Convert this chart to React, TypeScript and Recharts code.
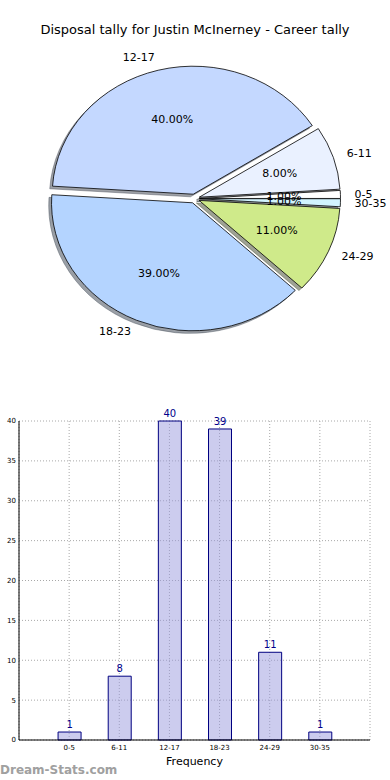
import React from 'react';
import { PieChart, Pie, Cell, BarChart, Bar, XAxis, YAxis, CartesianGrid, LabelList } from 'recharts';

const categories = ['0-5', '6-11', '12-17', '18-23', '24-29', '30-35'];
const tally = [1, 8, 40, 39, 11, 1];
const sliceColors = ['#ffffff', '#eaf1ff', '#c4d8ff', '#b4d4ff', '#cfea8a', '#d2f4ff'];
const yTicks = [0, 5, 10, 15, 20, 25, 30, 35, 40];
const xTicks = [0, 1, 2, 3, 4, 5];

const pieData = categories.map((c, i) => ({ name: c, value: tally[i] }));
const barData = categories.map((c, i) => ({ x: i, name: c, value: tally[i] }));

const RX = 141;
const RY = 128;
const EXPLODE = 5;
const RAD = Math.PI / 180;
const FONT = '"DejaVu Sans", sans-serif';

function shadeColor(hex: string) {
  const n = parseInt(hex.slice(1), 16);
  const r = Math.round(((n >> 16) & 255) * 0.3);
  const g = Math.round(((n >> 8) & 255) * 0.3);
  const b = Math.round((n & 255) * 0.3);
  return `rgb(${r},${g},${b})`;
}

function sectorPath(cx: number, cy: number, startAngle: number, endAngle: number, dx: number, dy: number) {
  const mid = ((startAngle + endAngle) / 2) * RAD;
  const ox = cx + EXPLODE * Math.cos(mid) + dx;
  const oy = cy - EXPLODE * (RY / RX) * Math.sin(mid) + dy;
  const a0 = startAngle * RAD;
  const a1 = endAngle * RAD;
  const x0 = ox + RX * Math.cos(a0);
  const y0 = oy - RY * Math.sin(a0);
  const x1 = ox + RX * Math.cos(a1);
  const y1 = oy - RY * Math.sin(a1);
  const large = Math.abs(endAngle - startAngle) > 180 ? 1 : 0;
  return `M${ox},${oy} L${x0},${y0} A${RX},${RY} 0 ${large} 0 ${x1},${y1} Z`;
}

const WedgeShape = (props: any) => {
  const { cx, cy, startAngle, endAngle, fill } = props;
  return <path d={sectorPath(cx, cy, startAngle, endAngle, 0, 0)} fill={fill} stroke="#000" strokeWidth={0.8} strokeLinejoin="round" />;
};

const ShadowShape = (props: any) => {
  const { cx, cy, startAngle, endAngle, fill } = props;
  return <path d={sectorPath(cx, cy, startAngle, endAngle, -2.8, 2.6)} fill={fill} stroke={fill} strokeWidth={0.8} fillOpacity={0.5} strokeOpacity={0.5} />;
};

const renderPieLabel = (props: any) => {
  const { cx, cy, midAngle, percent, index } = props;
  const m = midAngle * RAD;
  const ox = cx + EXPLODE * Math.cos(m);
  const oy = cy - EXPLODE * (RY / RX) * Math.sin(m);
  const nx = ox + 1.1 * RX * Math.cos(m);
  const ny = oy - 1.1 * RY * Math.sin(m);
  const px = ox + 0.6 * RX * Math.cos(m);
  const py = oy - 0.6 * RY * Math.sin(m);
  return (
    <g>
      <text x={nx} y={ny} textAnchor={Math.cos(m) > 0 ? 'start' : 'end'} dominantBaseline="central" fontSize={11} fontFamily={FONT} fill="#000">
        {categories[index]}
      </text>
      <text x={px} y={py} textAnchor="middle" dominantBaseline="central" fontSize={11} fontFamily={FONT} fill="#000">
        {(percent * 100).toFixed(2)}%
      </text>
    </g>
  );
};

export default function App() {
  return (
    <div style={{ position: 'absolute', left: 0, top: 0, width: 390, height: 780, background: '#fff', fontFamily: FONT }}>
      <div style={{ position: 'absolute', left: 0, top: 22, width: 390, textAlign: 'center', fontSize: 13, lineHeight: '16px', color: '#000' }}>
        Disposal tally for Justin McInerney - Career tally
      </div>
      <div style={{ position: 'absolute', left: 0, top: 0 }}>
        <PieChart width={390} height={390} margin={{ top: 0, right: 0, bottom: 0, left: 0 }}>
          <Pie
            data={pieData}
            dataKey="value"
            nameKey="name"
            cx={194.5}
            cy={198.6}
            outerRadius={RX}
            startAngle={0}
            endAngle={360}
            shape={ShadowShape}
            label={false}
            labelLine={false}
            isAnimationActive={false}
          >
            {pieData.map((d, i) => (
              <Cell key={`s${i}`} fill={shadeColor(sliceColors[i])} />
            ))}
          </Pie>
          <Pie
            data={pieData}
            dataKey="value"
            nameKey="name"
            cx={194.5}
            cy={198.6}
            outerRadius={RX}
            startAngle={0}
            endAngle={360}
            shape={WedgeShape}
            label={renderPieLabel}
            labelLine={false}
            isAnimationActive={false}
          >
            {pieData.map((d, i) => (
              <Cell key={`c${i}`} fill={sliceColors[i]} />
            ))}
          </Pie>
        </PieChart>
      </div>
      <div style={{ position: 'absolute', left: 0, top: 400 }}>
        <BarChart width={390} height={380} data={barData} margin={{ top: 21, right: 20, bottom: 0, left: 0 }}>
          <CartesianGrid stroke="#a8a8a8" strokeDasharray="1 2" />
          <XAxis
            dataKey="x"
            type="number"
            domain={[-1, 6]}
            ticks={xTicks}
            tickFormatter={(v: number) => categories[v]}
            height={40}
            tickSize={0}
            tickMargin={5}
            axisLine={{ stroke: '#000' }}
            tick={{ fontSize: 7, fill: '#000', fontFamily: FONT }}
            interval={0}
            label={{ value: 'Frequency', position: 'insideBottom', offset: 15, fontSize: 11, fill: '#000', fontFamily: FONT }}
          />
          <XAxis xAxisId="top" orientation="top" type="number" domain={[-1, 6]} ticks={xTicks} tick={false} tickLine={false} axisLine={{ stroke: '#000' }} height={0} />
          <YAxis
            domain={[0, 40]}
            ticks={yTicks}
            width={19}
            tickSize={0}
            tickMargin={3}
            axisLine={{ stroke: '#000' }}
            tick={{ fontSize: 7, fill: '#000', fontFamily: FONT }}
            interval={0}
          />
          <YAxis yAxisId="right" orientation="right" domain={[0, 40]} ticks={yTicks} tick={false} tickLine={false} axisLine={{ stroke: '#000' }} width={0} />
          <Bar dataKey="value" barSize={23} fill="#9999dd" fillOpacity={0.5} stroke="#000080" strokeWidth={1} isAnimationActive={false}>
            <LabelList dataKey="value" position="top" offset={4} fill="#00008b" fontSize={10} fontFamily={FONT} />
          </Bar>
        </BarChart>
      </div>
      <div style={{ position: 'absolute', left: 0, top: 762, fontSize: 12, fontWeight: 'bold', color: '#a0a0a0', lineHeight: '16px' }}>
        Dream-Stats.com
      </div>
    </div>
  );
}
